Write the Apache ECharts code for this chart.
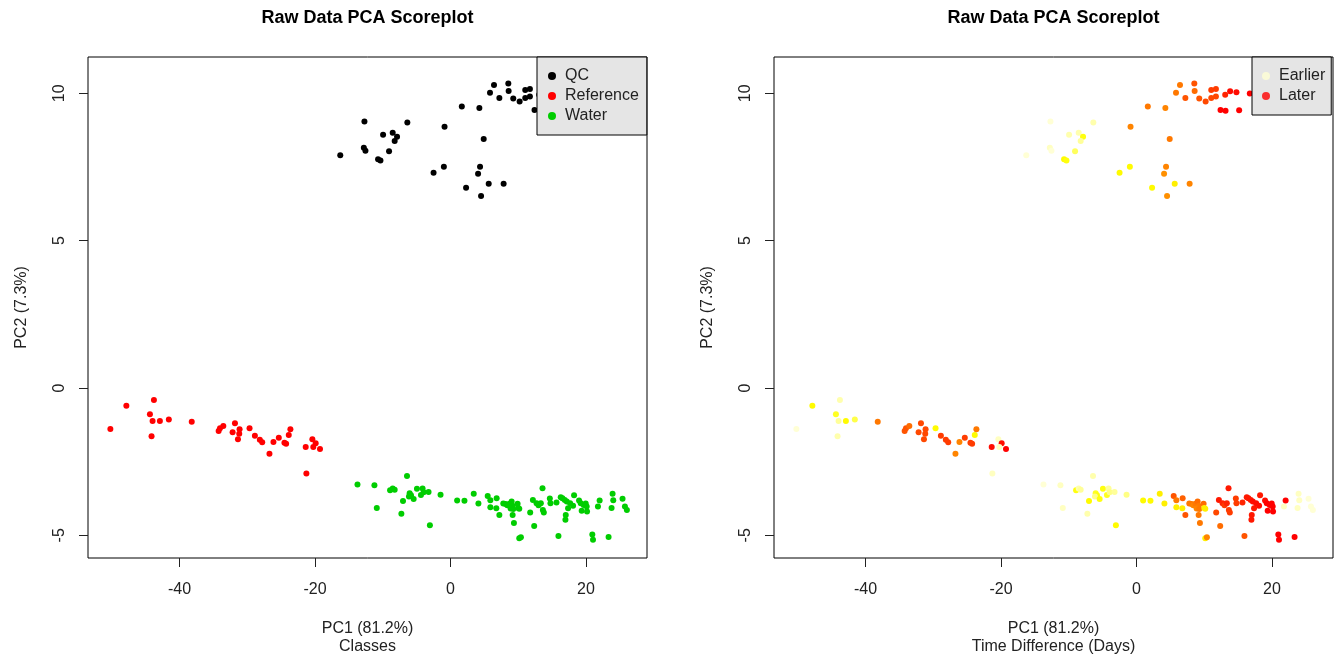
<!DOCTYPE html>
<html>
<head>
<meta charset="utf-8">
<title>Raw Data PCA Scoreplot</title>
<script src="https://cdn.jsdelivr.net/npm/echarts@6/dist/echarts.min.js"></script>
<style>
  html, body { margin: 0; padding: 0; background: #fff; }
  #chart { width: 1344px; height: 657px; }
</style>
</head>
<body>
<div id="chart"></div>
<script>
// PCA scores, one group per class
// days = time difference used for the colour of the right panel
const qcPC1 = [-16.27, -12.70, -12.79, -12.55, -10.69, -10.34, -9.95, -9.07, -8.53, -7.89, -8.24, -6.37,
  -0.88, -2.50, -0.98, 1.67, 2.30, 4.26, 4.90, 4.36, 4.07, 5.64, 4.51, 7.84, 5.83, 6.42, 7.21, 8.53,
  8.58, 9.26, 10.20, 11.03, 11.72, 11.03, 11.72, 12.40, 13.14, 13.09, 13.82, 14.75, 15.15, 16.72];
const qcPC2 = [7.90, 9.04, 8.15, 8.05, 7.76, 7.72, 8.59, 8.03, 8.66, 8.52, 8.38, 9.01,
  8.86, 7.30, 7.51, 9.55, 6.79, 9.50, 8.45, 7.51, 7.27, 6.93, 6.51, 6.93, 10.02, 10.28, 9.84, 10.33,
  10.08, 9.82, 9.72, 10.11, 10.14, 9.84, 9.89, 9.43, 9.41, 9.95, 10.07, 10.03, 9.42, 9.99];
const qcDays = [0, 0, 1, 0, 11, 10, 2, 6, 2, 10, 3, 2,
  21, 11, 11, 22, 11, 21, 22, 21, 20, 12, 20, 21, 22, 22, 25, 25,
  23, 25, 26, 27, 27, 26, 26, 32, 32, 29, 31, 31, 32, 32];

const refPC1 = [-50.20, -47.84, -43.77, -44.36, -43.97, -42.89, -44.12, -41.57, -38.19, -34.22, -34.02, -33.53,
  -31.81, -32.16, -31.13, -31.18, -31.37, -29.66, -28.87, -28.14, -27.79, -26.72, -26.13, -25.34,
  -24.51, -24.26, -23.87, -23.63, -21.37, -20.39, -19.90, -20.25, -19.26, -21.27];
const refPC2 = [-1.39, -0.60, -0.41, -0.89, -1.12, -1.12, -1.64, -1.07, -1.15, -1.46, -1.37, -1.29,
  -1.20, -1.50, -1.40, -1.55, -1.74, -1.37, -1.62, -1.76, -1.84, -2.23, -1.83, -1.69,
  -1.86, -1.89, -1.60, -1.40, -2.00, -1.74, -1.88, -2.00, -2.07, -2.90];
const refDays = [0, 11, 2, 9, 3, 11, 2, 7, 22, 25, 25, 23,
  26, 26, 26, 26, 26, 11, 27, 27, 27, 21, 21, 27,
  27, 27, 11, 22, 31, 1, 31, 1, 32, 1];

const waterPC1 = [-13.73, -11.23, -10.88, -8.92, -8.53, -8.24, -7.25, -7.01, -6.42, -6.03, -5.83, -6.13,
  -5.44, -4.95, -4.36, -4.12, -3.97, -3.24, -3.04, -1.47, 0.98, 2.06, 3.43, 4.12,
  5.49, 5.88, 5.88, 6.81, 6.76, 7.21, 7.79, 8.14, 8.38, 8.73, 9.02, 9.17,
  8.87, 9.26, 9.90, 10.00, 10.15, 9.17, 9.36, 10.15, 10.39, 11.76, 12.16, 12.35,
  12.70, 12.99, 13.33, 13.58, 13.63, 13.77, 14.66, 14.75, 15.64, 15.93, 16.27, 16.52,
  16.86, 17.16, 17.35, 17.01, 16.96, 17.65, 18.09, 18.24, 18.97, 19.22, 19.36, 19.66,
  19.95, 20.10, 20.15, 20.93, 21.03, 21.76, 22.01, 23.33, 23.77, 23.92, 24.02, 25.39,
  25.74, 26.03];
const waterPC2 = [-3.28, -3.30, -4.07, -3.47, -3.41, -3.45, -4.27, -3.84, -2.99, -3.57, -3.64, -3.68,
  -3.77, -3.42, -3.63, -3.41, -3.54, -3.53, -4.66, -3.62, -3.82, -3.83, -3.59, -3.92,
  -3.67, -3.81, -4.05, -3.74, -4.08, -4.31, -3.92, -3.94, -3.98, -3.93, -3.85, -4.00,
  -4.09, -4.11, -3.93, -4.07, -4.10, -4.31, -4.58, -5.10, -5.07, -4.23, -3.80, -4.68,
  -3.91, -3.98, -3.91, -3.40, -4.14, -4.23, -3.75, -3.91, -3.89, -5.02, -3.71, -3.74,
  -3.80, -3.85, -4.08, -4.31, -4.47, -3.91, -4.00, -3.64, -3.82, -3.91, -4.17, -3.97,
  -3.92, -4.02, -4.19, -4.97, -5.15, -4.02, -3.82, -5.06, -4.07, -3.59, -3.81, -3.76,
  -4.02, -4.14];
const waterDays = [0, 1, 1, 10, 2, 3, 2, 11, 2, 9, 10, 4,
  10, 10, 9, 3, 4, 3, 11, 4, 11, 11, 12, 12,
  25, 22, 12, 24, 12, 25, 22, 22, 21, 22, 23, 22,
  21, 22, 23, 12, 12, 22, 22, 12, 21, 26, 30, 23,
  29, 27, 29, 30, 27, 27, 27, 27, 29, 25, 30, 30,
  30, 31, 30, 30, 30, 31, 31, 30, 31, 32, 32, 32,
  32, 32, 32, 32, 32, 1, 32, 32, 1, 1, 1, 0,
  0, 0];

const xTicks = [-40, -20, 0, 20];
const yTicks = [-5, 0, 5, 10];

const FONT = '"Liberation Sans", Arial, Helvetica, sans-serif';

const toPoints = (xs, ys, extra) => xs.map((x, i) => extra ? [x, ys[i], extra[i]] : [x, ys[i]]);

const timePoints = [].concat(
  toPoints(qcPC1, qcPC2, qcDays),
  toPoints(refPC1, refPC2, refDays),
  toPoints(waterPC1, waterPC2, waterDays)
);

const makeX = (gridIndex, subtitle) => ({
  type: 'value',
  gridIndex: gridIndex,
  min: -53.5,
  max: 29,
  axisLine: { show: false, onZero: false },
  splitLine: { show: false },
  axisTick: { show: true, length: 9, customValues: xTicks, lineStyle: { color: '#222' } },
  axisLabel: { customValues: xTicks, margin: 24, fontSize: 16, color: '#222', fontFamily: FONT },
  name: 'PC1 (81.2%)\n' + subtitle,
  nameLocation: 'middle',
  nameGap: 62,
  nameTextStyle: { fontSize: 16, color: '#222', fontFamily: FONT, lineHeight: 18 }
});

const makeY = (gridIndex) => ({
  type: 'value',
  gridIndex: gridIndex,
  min: -5.77,
  max: 11.23,
  axisLine: { show: false, onZero: false },
  splitLine: { show: false },
  axisTick: { show: true, length: 9, customValues: yTicks, lineStyle: { color: '#222' } },
  axisLabel: { customValues: yTicks, rotate: 90, margin: 20, fontSize: 16, color: '#222', fontFamily: FONT },
  name: 'PC2 (7.3%)',
  nameLocation: 'middle',
  nameGap: 58,
  nameTextStyle: { fontSize: 16, color: '#222', fontFamily: FONT }
});

const legendBase = {
  orient: 'vertical',
  top: 57,
  itemGap: 4,
  itemWidth: 16,
  itemHeight: 8,
  icon: 'circle',
  backgroundColor: '#E5E5E5',
  borderColor: '#000',
  borderWidth: 1,
  borderRadius: 0,
  textStyle: { fontSize: 16, color: '#222', fontFamily: FONT }
};

const gridBase = {
  top: 57,
  width: 559,
  height: 501,
  show: true,
  borderColor: '#000',
  borderWidth: 1,
  backgroundColor: 'transparent',
  outerBoundsMode: 'none',
  containLabel: false
};

const chart = echarts.init(document.getElementById('chart'));

chart.setOption({
  animation: false,
  backgroundColor: '#fff',
  graphic: [
    { type: 'text', x: 367.5, y: 18, z: 10,
      style: { text: 'Raw Data PCA Scoreplot', font: 'bold 18px ' + FONT, fill: '#000', align: 'center', verticalAlign: 'middle' } },
    { type: 'text', x: 1053.5, y: 18, z: 10,
      style: { text: 'Raw Data PCA Scoreplot', font: 'bold 18px ' + FONT, fill: '#000', align: 'center', verticalAlign: 'middle' } }
  ],
  grid: [
    Object.assign({}, gridBase, { left: 88 }),
    Object.assign({}, gridBase, { left: 774 })
  ],
  xAxis: [makeX(0, 'Classes'), makeX(1, 'Time Difference (Days)')],
  yAxis: [makeY(0), makeY(1)],
  legend: [
    Object.assign({}, legendBase, { left: 537, padding: [11, 8, 11, 11], data: ['QC', 'Reference', 'Water'] }),
    Object.assign({}, legendBase, { left: 1252, padding: [11, 6, 11, 10], data: ['Earlier', 'Later'] })
  ],
  visualMap: {
    type: 'continuous',
    show: false,
    seriesIndex: 3,
    dimension: 2,
    min: 0,
    max: 32,
    inRange: { color: ['#FFFFD5', '#FFFF00', '#FF8000', '#FF0000'] }
  },
  series: [
    { name: 'QC', type: 'scatter', xAxisIndex: 0, yAxisIndex: 0, symbolSize: 6,
      itemStyle: { color: '#000000', opacity: 1 }, data: toPoints(qcPC1, qcPC2) },
    { name: 'Reference', type: 'scatter', xAxisIndex: 0, yAxisIndex: 0, symbolSize: 6,
      itemStyle: { color: '#FF0000', opacity: 1 }, data: toPoints(refPC1, refPC2) },
    { name: 'Water', type: 'scatter', xAxisIndex: 0, yAxisIndex: 0, symbolSize: 6,
      itemStyle: { color: '#00CD00', opacity: 1 }, data: toPoints(waterPC1, waterPC2) },
    { name: 'Time', type: 'scatter', xAxisIndex: 1, yAxisIndex: 1, symbolSize: 6,
      itemStyle: { opacity: 1 }, data: timePoints },
    { name: 'Earlier', type: 'scatter', xAxisIndex: 1, yAxisIndex: 1,
      itemStyle: { color: '#FFFFD5' }, data: [] },
    { name: 'Later', type: 'scatter', xAxisIndex: 1, yAxisIndex: 1,
      itemStyle: { color: '#FF0000' }, data: [] }
  ]
});

window.addEventListener('resize', () => chart.resize());
</script>
</body>
</html>
